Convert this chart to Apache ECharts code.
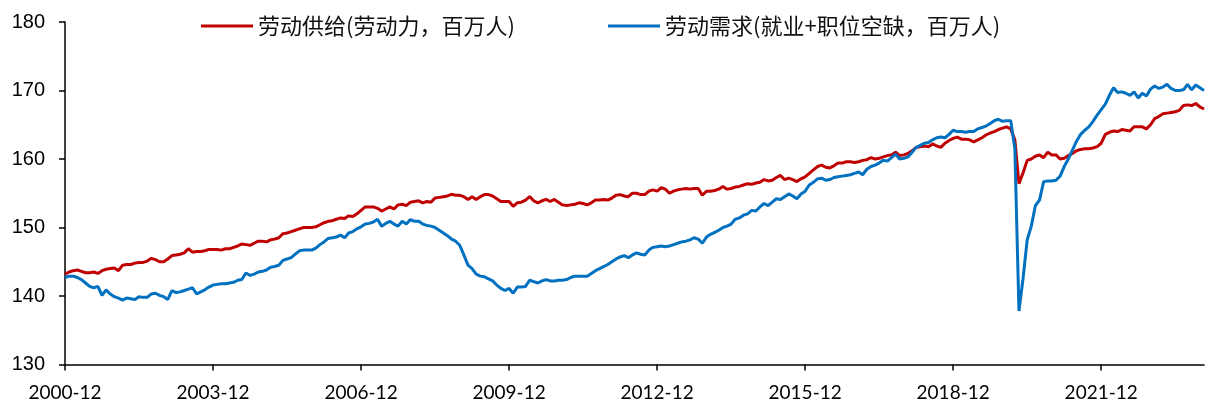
<!DOCTYPE html>
<html>
<head>
<meta charset="utf-8">
<script src="https://cdn.jsdelivr.net/npm/echarts@6/dist/echarts.min.js"></script>
<style>
  html, body { margin: 0; padding: 0; background: #fff; }
  #chart { width: 1205px; height: 405px; }
</style>
</head>
<body>
<div id="chart"></div>
<script>
// Monthly series, 2000-12 through 2024-01 (millions of people)
const startYear = 2000;
const startMonth = 12;

const supplyName = '劳动供给(劳动力，百万人)';
const demandName = '劳动需求(就业+职位空缺，百万人)';

// Labour force
const laborSupply = [
  143.2, 143.5, 143.7, 143.8, 143.6, 143.4, 143.4, 143.5, 143.3, 143.7, 143.9, 144.0, 144.1,
  143.7, 144.5, 144.6, 144.6, 144.8, 144.9, 144.9, 145.1, 145.5, 145.3, 145.0, 145.0,
  145.4, 145.9, 146.0, 146.1, 146.3, 146.9, 146.4, 146.5, 146.5, 146.6, 146.8, 146.8,
  146.8, 146.7, 146.9, 146.9, 147.1, 147.3, 147.6, 147.5, 147.4, 147.7, 148.0, 148.0,
  147.9, 148.2, 148.3, 148.5, 149.1, 149.2, 149.4, 149.6, 149.8, 150.0, 150.0, 150.0,
  150.1, 150.4, 150.7, 150.9, 151.0, 151.2, 151.4, 151.3, 151.7, 151.6, 152.0, 152.5,
  153.0, 153.0, 153.0, 152.8, 152.4, 152.7, 153.0, 152.7, 153.3, 153.4, 153.2, 153.7,
  153.8, 153.9, 153.6, 153.8, 153.7, 154.3, 154.4, 154.5, 154.6, 154.85, 154.7, 154.7,
  154.5, 154.1, 154.5, 154.1, 154.5, 154.8, 154.8, 154.6, 154.2, 153.8, 153.8, 153.8,
  153.1, 153.6, 153.7, 154.0, 154.5, 153.9, 153.6, 153.9, 154.1, 153.8, 154.1, 153.7,
  153.3, 153.2, 153.3, 153.4, 153.6, 153.5, 153.3, 153.6, 154.0, 154.0, 154.1, 154.0,
  154.3, 154.7, 154.8, 154.6, 154.5, 155.0, 155.0, 154.8, 154.8, 155.3, 155.5, 155.3,
  155.8, 155.6, 155.0, 155.3, 155.5, 155.6, 155.7, 155.6, 155.7, 155.7, 154.7, 155.3,
  155.3, 155.4, 155.6, 156.0, 155.6, 155.7, 155.9, 156.0, 156.2, 156.4, 156.3, 156.5,
  156.6, 157.0, 156.8, 156.9, 157.3, 157.6, 157.0, 157.2, 157.0, 156.7, 157.1, 157.4,
  157.9, 158.4, 158.9, 159.1, 158.8, 158.7, 159.0, 159.4, 159.4, 159.6, 159.6, 159.5,
  159.6, 159.8, 159.9, 160.2, 160.0, 160.1, 160.3, 160.5, 160.6, 161.0, 160.5, 160.6,
  160.8, 161.2, 161.7, 161.8, 161.9, 161.8, 162.2, 161.9, 161.7, 162.3, 162.7, 163.0,
  163.2, 162.9, 162.9, 162.8, 162.5, 162.8, 163.1, 163.5, 163.8, 164.0, 164.3, 164.5,
  164.7, 164.4, 162.8, 156.4, 158.0, 159.8, 160.0, 160.4, 160.6, 160.2, 161.0, 160.6,
  160.6, 160.0, 160.1, 160.5, 160.8, 161.2, 161.4, 161.5, 161.5, 161.6, 161.8, 162.3,
  163.6, 163.9, 164.1, 164.0, 164.3, 164.2, 164.1, 164.7, 164.7, 164.7, 164.4, 165.0,
  165.9, 166.2, 166.6, 166.7, 166.8, 166.9, 167.1, 167.8, 167.9, 167.8, 168.1, 167.6, 167.3
];

// Employment plus job openings
const laborDemand = [
  142.7, 142.9, 142.9, 142.7, 142.4, 141.9, 141.4, 141.2, 141.4, 140.1, 140.9, 140.3, 139.9,
  139.7, 139.4, 139.7, 139.6, 139.5, 139.9, 139.8, 139.8, 140.3, 140.4, 140.1, 139.9,
  139.5, 140.8, 140.5, 140.6, 140.8, 141.0, 141.2, 140.3, 140.6, 140.9, 141.3, 141.6,
  141.7, 141.8, 141.8, 141.9, 142.0, 142.3, 142.4, 143.35, 143.0, 143.2, 143.5, 143.6,
  143.8, 144.2, 144.3, 144.5, 145.2, 145.4, 145.6, 146.1, 146.6, 146.7, 146.7, 146.7,
  147.0, 147.5, 147.9, 148.4, 148.5, 148.6, 148.9, 148.5, 149.2, 149.4, 149.8, 150.1,
  150.5, 150.6, 150.8, 151.2, 150.2, 150.6, 150.9, 150.5, 150.2, 150.9, 150.5, 151.15,
  150.9, 150.9, 150.5, 150.3, 150.2, 150.0, 149.6, 149.2, 148.8, 148.3, 148.0, 147.4,
  146.0, 144.5, 144.0, 143.2, 142.9, 142.8, 142.5, 142.2, 141.6, 141.1, 140.8, 141.1,
  140.4, 141.3, 141.3, 141.4, 142.3, 142.1, 141.9, 142.2, 142.4, 142.2, 142.2, 142.3,
  142.3, 142.4, 142.7, 142.9, 142.9, 142.9, 142.9, 143.3, 143.7, 144.0, 144.3, 144.6,
  145.0, 145.4, 145.7, 145.9, 145.6, 146.0, 146.3, 146.1, 146.0, 146.7, 147.1, 147.2,
  147.3, 147.2, 147.3, 147.5, 147.7, 147.9, 148.0, 148.2, 148.5, 148.3, 147.7, 148.6,
  149.0, 149.3, 149.6, 150.0, 150.2, 150.5, 151.2, 151.4, 151.8, 152.0, 152.5, 152.4,
  153.0, 153.5, 153.2, 153.7, 154.2, 154.1, 154.5, 154.9, 154.6, 154.2, 154.9, 155.3,
  156.2, 156.6, 157.1, 157.2, 156.9, 157.0, 157.3, 157.4, 157.5, 157.6, 157.7, 157.9,
  158.1, 157.7, 158.5, 158.9, 159.1, 159.4, 159.8, 159.7, 160.2, 160.7, 160.0, 160.1,
  160.3, 161.0, 161.7, 162.0, 162.3, 162.4, 162.8, 163.1, 163.2, 163.1, 163.6, 164.2,
  164.0, 164.0, 163.9, 164.0, 164.0, 164.4, 164.6, 164.8, 165.2, 165.6, 165.8, 165.5,
  165.6, 165.6, 161.5, 137.8, 142.6, 148.2, 150.2, 153.2, 154.0, 156.7, 156.8, 156.8,
  156.9, 157.5, 158.9, 160.0, 161.3, 162.6, 163.6, 164.2, 164.7, 165.5, 166.4, 167.2,
  168.0, 169.3, 170.4, 169.7, 169.8, 169.6, 169.3, 169.8, 168.9, 169.6, 169.2, 170.2,
  170.65, 170.3, 170.5, 170.9, 170.3, 170.0, 170.0, 170.1, 170.9, 170.1, 170.8, 170.4, 170.0
];

// Month labels (yyyy-mm), one per data point
const months = [];
for (let k = 0; k < laborSupply.length; k++) {
  const m0 = startMonth - 1 + k;
  const y = startYear + Math.floor(m0 / 12);
  const m = (m0 % 12) + 1;
  months.push(y + '-' + (m < 10 ? '0' + m : m));
}

const yTicks = { min: 130, max: 180, step: 10 };
const labelEvery = 36; // one label every three years

const supplyColor = '#C00000';
const demandColor = '#0070C0';
const cjkFont = "'Noto Sans CJK SC', sans-serif";

const chart = echarts.init(document.getElementById('chart'), null, { renderer: 'canvas' });

const legendText = { fontSize: 22, fontFamily: cjkFont, color: '#111' };

chart.setOption({
  animation: false,
  backgroundColor: '#fff',
  grid: { left: 65, right: 1, top: 22, bottom: 40.5, containLabel: false },
  legend: [
    {
      data: [supplyName], left: 196, top: 10,
      icon: 'rect', itemWidth: 52, itemHeight: 3,
      textStyle: legendText
    },
    {
      data: [demandName], left: 603, top: 10,
      icon: 'rect', itemWidth: 52, itemHeight: 3,
      textStyle: legendText
    }
  ],
  xAxis: {
    type: 'category',
    data: months,
    boundaryGap: false,
    axisLine: { lineStyle: { color: '#000', width: 1.5 } },
    axisTick: { show: true, interval: labelEvery - 1, length: 6, lineStyle: { color: '#000', width: 1.5 } },
    axisLabel: {
      interval: labelEvery - 1, margin: 19,
      color: '#000', fontSize: 19, fontFamily: "Lato, 'Liberation Sans', sans-serif"
    },
    splitLine: { show: false }
  },
  yAxis: {
    type: 'value',
    min: yTicks.min, max: yTicks.max, interval: yTicks.step,
    axisLine: { show: true, lineStyle: { color: '#000', width: 1.5 } },
    axisTick: { show: true, length: 6, lineStyle: { color: '#000', width: 1.5 } },
    axisLabel: {
      margin: 20, color: '#000', fontSize: 20,
      fontFamily: "'Liberation Sans', Arial, sans-serif"
    },
    splitLine: { show: false }
  },
  series: [
    {
      name: supplyName, type: 'line', data: laborSupply,
      showSymbol: false, symbol: 'none',
      lineStyle: { color: supplyColor, width: 3 },
      itemStyle: { color: supplyColor }
    },
    {
      name: demandName, type: 'line', data: laborDemand,
      showSymbol: false, symbol: 'none',
      lineStyle: { color: demandColor, width: 3 },
      itemStyle: { color: demandColor }
    }
  ]
});
</script>
</body>
</html>
